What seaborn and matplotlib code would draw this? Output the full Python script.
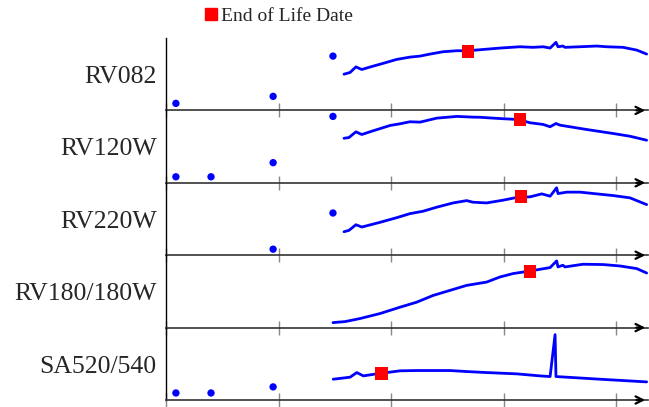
import matplotlib
matplotlib.use('Agg')
import matplotlib.pyplot as plt
import seaborn as sns
from matplotlib.lines import Line2D

# panel names, top to bottom
names = ['RV082', 'RV120W', 'RV220W', 'RV180/180W', 'SA520/540']

# blue dots (year, level)
dot_x = [[2000.44, 2004.76, 2007.42],
         [2000.44, 2002.0, 2004.76, 2007.42],
         [2004.76, 2007.42],
         [],
         [2000.44, 2002.0, 2004.76]]
dot_y = [[9.7, 19.4, 75.0],
         [8.3, 8.3, 27.8, 91.7],
         [8.3, 58.3],
         [],
         [9.7, 9.7, 18.1]]

# blue lines
line_x = [
    [2007.91, 2008.18, 2008.44, 2008.70, 2009.2, 2009.64, 2010.25, 2010.84, 2011.29, 2011.73,
     2012.31, 2012.92, 2013.42, 2013.96, 2014.84, 2015.73, 2016.31, 2016.76, 2017.07, 2017.33,
     2017.42, 2017.64, 2017.73, 2018.4, 2019.14, 2019.59, 2020.31, 2020.92, 2021.36],
    [2007.91, 2008.13, 2008.44, 2008.70, 2009.2, 2009.96, 2010.4, 2010.84, 2011.29, 2012.03,
     2012.92, 2013.64, 2013.96, 2014.4, 2014.98, 2015.64, 2016.18, 2016.76, 2017.07, 2017.33,
     2017.51, 2018.7, 2019.87, 2020.62, 2021.36],
    [2007.91, 2008.13, 2008.44, 2008.70, 2009.51, 2010.25, 2010.84, 2011.42, 2012.03, 2012.76,
     2013.36, 2013.64, 2014.25, 2014.98, 2015.64, 2016.18, 2016.7, 2017.07, 2017.36, 2017.42,
     2017.81, 2018.4, 2019.14, 2019.87, 2020.62, 2021.36],
    [2007.42, 2007.96, 2008.62, 2009.51, 2010.4, 2011.14, 2011.87, 2012.62, 2013.36, 2014.25,
     2014.84, 2015.42, 2016.18, 2017.07, 2017.36, 2017.42, 2017.64, 2017.73, 2018.53, 2019.42,
     2020.18, 2020.92, 2021.36],
    [2007.43, 2008.18, 2008.48, 2008.77, 2009.36, 2010.4, 2011.14, 2012.62, 2013.36, 2014.25,
     2015.59, 2016.62, 2017.07, 2017.29, 2017.33, 2017.81, 2019.29, 2021.36],
]
line_y = [
    [50.0, 52.4, 60.1, 56.5, 61.1, 64.9, 70.4, 73.6, 75.0, 77.8,
     81.0, 82.4, 82.4, 83.8, 86.1, 87.9, 87.1, 87.9, 86.1, 94.0,
     87.9, 88.9, 87.1, 87.9, 88.9, 87.9, 87.1, 83.3, 77.8],
    [61.5, 62.5, 70.4, 66.7, 71.8, 79.2, 81.5, 84.3, 83.8, 89.3,
     91.7, 90.7, 90.5, 89.6, 88.5, 87.5, 82.9, 80.6, 77.4, 81.9,
     79.6, 73.6, 68.1, 64.3, 58.8],
    [32.4, 34.3, 42.1, 38.9, 45.4, 51.8, 57.4, 60.7, 66.3, 72.2,
     75.4, 73.2, 72.2, 76.0, 80.1, 80.6, 84.7, 81.5, 93.1, 85.1,
     87.1, 87.1, 84.7, 82.4, 79.2, 69.9],
    [6.9, 8.3, 12.5, 19.4, 28.2, 35.1, 44.4, 51.4, 58.3, 62.9,
     69.9, 74.6, 78.2, 82.9, 92.1, 83.8, 86.1, 83.8, 87.5, 87.1,
     85.1, 81.5, 75.4],
    [28.7, 31.5, 37.9, 33.3, 36.1, 40.3, 40.7, 40.7, 39.3, 37.9,
     36.1, 33.3, 32.4, 90.3, 32.4, 31.5, 28.7, 25.0],
]

# end of life markers
eol_x = [2013.42, 2015.73, 2015.78, 2016.18, 2009.59]
eol_y = [81.9, 87.5, 80.6, 77.8, 37.1]

ticks = [2000, 2005, 2010, 2015, 2020]

sns.set_style('white')
plt.rcParams['font.family'] = ['Liberation Serif', 'DejaVu Serif']

fig, axes = plt.subplots(5, 1, figsize=(6.49, 4.07), dpi=100)
plt.subplots_adjust(left=166/649, right=648/649, top=1-38/407, bottom=1-400/407, hspace=0)

for i, ax in enumerate(axes):
    if dot_x[i]:
        sns.scatterplot(x=dot_x[i], y=dot_y[i], ax=ax, color='blue', s=28,
                        edgecolor='none', clip_on=False, zorder=3)
    sns.lineplot(x=line_x[i], y=line_y[i], ax=ax, color='blue', lw=2,
                 sort=False, estimator=None, zorder=3)
    sns.scatterplot(x=[eol_x[i]], y=[eol_y[i]], ax=ax, color='red', marker='s',
                    s=85, edgecolor='none', clip_on=False, zorder=4)
    ax.set_xlim(2000, 2021.42)
    ax.set_ylim(0, 100)
    ax.set_xticks(ticks)
    ax.set_xticklabels([])
    ax.set_yticks([])
    ax.tick_params(axis='x', direction='inout', length=10, width=1, color='#888888', bottom=True)
    for s in ['top', 'right']:
        ax.spines[s].set_visible(False)
    ax.spines['left'].set_color('black')
    ax.spines['left'].set_linewidth(1)
    ax.spines['bottom'].set_color('#333333')
    ax.spines['bottom'].set_linewidth(1.2)
    ax.annotate('', xy=(1.0, 0), xytext=(0.97, 0), xycoords='axes fraction',
                arrowprops=dict(arrowstyle='->', color='black', lw=1.6, mutation_scale=13),
                annotation_clip=False)
    ax.text(-0.019, 0.46, names[i], transform=ax.transAxes, ha='right', va='center',
            fontsize=18.5)
    ax.set_xlabel('')
    ax.set_ylabel('')
    ax.patch.set_alpha(0)

handle = Line2D([], [], marker='s', color='red', ls='none', ms=9, label='End of Life Date')
fig.legend(handles=[handle], loc='center left', bbox_to_anchor=(204/649, 1-16/407),
           frameon=False, fontsize=14, handlelength=0.7, handletextpad=0.15,
           borderpad=0, borderaxespad=0)

fig.savefig('out.png', dpi=100)
